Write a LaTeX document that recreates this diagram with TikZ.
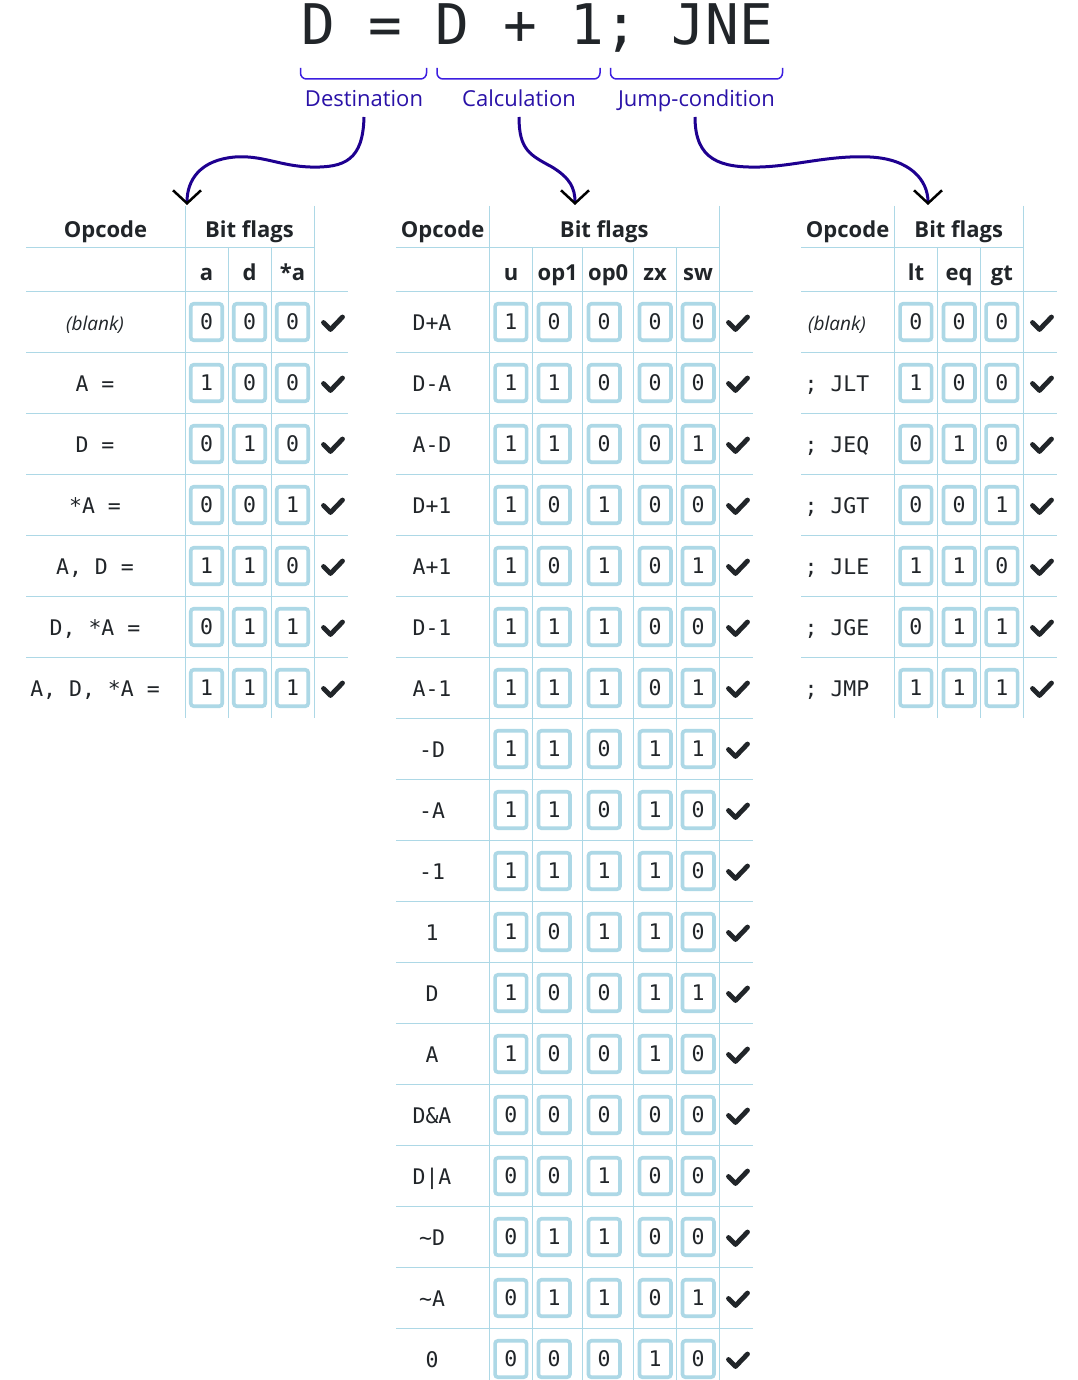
\documentclass[tikz,border=0pt]{standalone}
\usepackage{fontspec}
\setmainfont{Open Sans}
\newfontfamily\monof{DejaVu Sans Mono}
\usetikzlibrary{arrows.meta}
\definecolor{gridc}{HTML}{ADD8E6}
\definecolor{ink}{HTML}{212529}
\definecolor{lblc}{HTML}{2A12A8}
\definecolor{brcc}{HTML}{3C1EE0}
\definecolor{arrc}{HTML}{1E0090}
\tikzset{
  gridline/.style={draw=gridc,line width=1pt},
  bitbox/.style={draw=gridc,line width=3.6pt,rounded corners=3pt,minimum width=31.5pt,minimum height=36.5pt,inner sep=0pt,text=ink,font=\monof\fontsize{21.5}{21.5}\selectfont},
  opc/.style={anchor=base,inner sep=0pt,text=ink,font=\monof\fontsize{21.5}{21.5}\selectfont},
  hdr/.style={anchor=base,inner sep=0pt,text=ink,font=\bfseries\fontsize{22}{22}\selectfont},
  lbl/.style={anchor=base,inner sep=0pt,text=lblc,font=\fontsize{22}{22}\selectfont},
  brace/.style={draw=brcc,line width=1.5pt,rounded corners=6pt},
  curve/.style={draw=arrc,line width=3pt,-{Straight Barb[length=13pt,width=28pt,line width=2.5pt,color=black]}},
  check/.style={draw=ink,line width=4.8pt,line cap=round,line join=round},
  titlec/.style={anchor=base,inner sep=0pt,text=ink,font=\monof\fontsize{56}{56}\selectfont},
}
\newcommand\blanktxt{{\normalfont\itshape\fontsize{19}{19}\selectfont(blank)}}
% left table row
\newcommand\lrow[5]{%
  \pgfmathsetmacro\myy{322+61*#1}%
  \node[opc] (L-op-#1) at (95,\myy+8) {#2};
  \node[bitbox] (L-#1-1) at (206.5,\myy) {#3};
  \node[bitbox] (L-#1-2) at (249.5,\myy) {#4};
  \node[bitbox] (L-#1-3) at (292.5,\myy) {#5};
  \draw[check] (333-9.5,\myy+0.5) -- (333-2.5,\myy+7.5) -- (333+9.5,\myy-5);
}
% middle table row
\newcommand\mrow[7]{%
  \pgfmathsetmacro\myy{322+61*#1}%
  \node[opc] (M-op-#1) at (432,\myy+8) {#2};
  \node[bitbox] (M-#1-1) at (510.8,\myy) {#3};
  \node[bitbox] (M-#1-2) at (554.2,\myy) {#4};
  \node[bitbox] (M-#1-3) at (604.2,\myy) {#5};
  \node[bitbox] (M-#1-4) at (655.2,\myy) {#6};
  \node[bitbox] (M-#1-5) at (698.2,\myy) {#7};
  \draw[check] (738-9.5,\myy+0.5) -- (738-2.5,\myy+7.5) -- (738+9.5,\myy-5);
}
% right table row
\newcommand\rrow[5]{%
  \pgfmathsetmacro\myy{322+61*#1}%
  \node[opc] (R-op-#1) at (837,\myy+8) {#2};
  \node[bitbox] (R-#1-1) at (915.8,\myy) {#3};
  \node[bitbox] (R-#1-2) at (959.2,\myy) {#4};
  \node[bitbox] (R-#1-3) at (1001.8,\myy) {#5};
  \draw[check] (1042-9.5,\myy+0.5) -- (1042-2.5,\myy+7.5) -- (1042+9.5,\myy-5);
}
\begin{document}
\begin{tikzpicture}[x=1pt,y=-1pt]
\useasboundingbox (0,0) rectangle (1077,1380);
\fill[white] (0,0) rectangle (1077,1380);

% title and braces
\node[titlec] (title) at (537,45) {D = D + 1; JNE};
\draw[brace] (300.5,68) -- (300.5,79) -- (426.5,79) -- (426.5,68);
\draw[brace] (437,68) -- (437,79) -- (600,79) -- (600,68);
\draw[brace] (610.5,68) -- (610.5,79) -- (782.5,79) -- (782.5,68);
\node[lbl] (dest) at (364,107) {Destination};
\node[lbl] (calc) at (519,107) {Calculation};
\node[lbl] (jump) at (696.5,107) {Jump-condition};

% arrow targets
\coordinate (Ltip) at (187,205);
\coordinate (Mtip) at (575,205);
\coordinate (Rtip) at (928,205);
\draw[curve] ([yshift=-10pt]dest.base) .. controls (363,160) and (345,168) .. (310,167)
  .. controls (280,166) and (262,155) .. (235,157) .. controls (200,160) and (187,180) .. (Ltip);
\draw[curve] ([yshift=-10pt]calc.base) .. controls (519,150) and (530,155) .. (552,167)
  .. controls (570,178) and (575,188) .. (Mtip);
\draw[curve] ([xshift=-1.5pt,yshift=-10pt]jump.base) .. controls (695,160) and (720,168) .. (760,167)
  .. controls (795,166) and (830,155) .. (870,157) .. controls (910,159) and (928,180) .. (Rtip);

% ---------- left table grid ----------
\draw[gridline] (26,248) -- (314,248);
\foreach \k in {0,...,6} \draw[gridline] (26,291+61*\k) -- (348,291+61*\k);
\draw[gridline] (185,206) -- (185,718);
\draw[gridline] (314,206) -- (314,718);
\draw[gridline] (228,248) -- (228,718);
\draw[gridline] (271,248) -- (271,718);
% ---------- middle table grid ----------
\draw[gridline] (396,248) -- (719.3,248);
\foreach \k in {0,...,17} \draw[gridline] (396,291+61*\k) -- (752.7,291+61*\k);
\draw[gridline] (489.3,206) -- (489.3,1380);
\draw[gridline] (719.3,206) -- (719.3,1380);
\foreach \xx in {532.7,582.7,633.7,676.7} \draw[gridline] (\xx,248) -- (\xx,1380);
% ---------- right table grid ----------
\draw[gridline] (801,248) -- (1023.3,248);
\foreach \k in {0,...,6} \draw[gridline] (801,291+61*\k) -- (1057,291+61*\k);
\draw[gridline] (894.3,206) -- (894.3,718);
\draw[gridline] (1023.3,206) -- (1023.3,718);
\draw[gridline] (937.7,248) -- (937.7,718);
\draw[gridline] (980.3,248) -- (980.3,718);

% ---------- headers ----------
\node[hdr] (L-h-op) at (105.5,237) {Opcode};
\node[hdr] (L-h-bf) at (249.5,237) {Bit flags};
\node[hdr] (L-h-1) at (206.5,280) {a};
\node[hdr] (L-h-2) at (249.5,280) {d};
\node[hdr] (L-h-3) at (292.5,280) {*a};

\node[hdr] (M-h-op) at (442.6,237) {Opcode};
\node[hdr] (M-h-bf) at (604.3,237) {Bit flags};
\node[hdr] (M-h-1) at (511,280) {u};
\node[hdr] (M-h-2) at (557.7,280) {op1};
\node[hdr] (M-h-3) at (608.2,280) {op0};
\node[hdr] (M-h-4) at (655.2,280) {zx};
\node[hdr] (M-h-5) at (698,280) {sw};

\node[hdr] (R-h-op) at (847.6,237) {Opcode};
\node[hdr] (R-h-bf) at (958.8,237) {Bit flags};
\node[hdr] (R-h-1) at (916,280) {lt};
\node[hdr] (R-h-2) at (959,280) {eq};
\node[hdr] (R-h-3) at (1001.8,280) {gt};

% ---------- left rows ----------
\lrow{0}{\blanktxt}{0}{0}{0}
\lrow{1}{A =}{1}{0}{0}
\lrow{2}{D =}{0}{1}{0}
\lrow{3}{*A =}{0}{0}{1}
\lrow{4}{A, D =}{1}{1}{0}
\lrow{5}{D, *A =}{0}{1}{1}
\lrow{6}{A, D, *A =}{1}{1}{1}

% ---------- middle rows ----------
\mrow{0}{D+A}{1}{0}{0}{0}{0}
\mrow{1}{D-A}{1}{1}{0}{0}{0}
\mrow{2}{A-D}{1}{1}{0}{0}{1}
\mrow{3}{D+1}{1}{0}{1}{0}{0}
\mrow{4}{A+1}{1}{0}{1}{0}{1}
\mrow{5}{D-1}{1}{1}{1}{0}{0}
\mrow{6}{A-1}{1}{1}{1}{0}{1}
\mrow{7}{-D}{1}{1}{0}{1}{1}
\mrow{8}{-A}{1}{1}{0}{1}{0}
\mrow{9}{-1}{1}{1}{1}{1}{0}
\mrow{10}{1}{1}{0}{1}{1}{0}
\mrow{11}{D}{1}{0}{0}{1}{1}
\mrow{12}{A}{1}{0}{0}{1}{0}
\mrow{13}{D\&A}{0}{0}{0}{0}{0}
\mrow{14}{D|A}{0}{0}{1}{0}{0}
\mrow{15}{\textasciitilde D}{0}{1}{1}{0}{0}
\mrow{16}{\textasciitilde A}{0}{1}{1}{0}{1}
\mrow{17}{0}{0}{0}{0}{1}{0}

% ---------- right rows ----------
\rrow{0}{\blanktxt}{0}{0}{0}
\rrow{1}{; JLT}{1}{0}{0}
\rrow{2}{; JEQ}{0}{1}{0}
\rrow{3}{; JGT}{0}{0}{1}
\rrow{4}{; JLE}{1}{1}{0}
\rrow{5}{; JGE}{0}{1}{1}
\rrow{6}{; JMP}{1}{1}{1}
\end{tikzpicture}
\end{document}
